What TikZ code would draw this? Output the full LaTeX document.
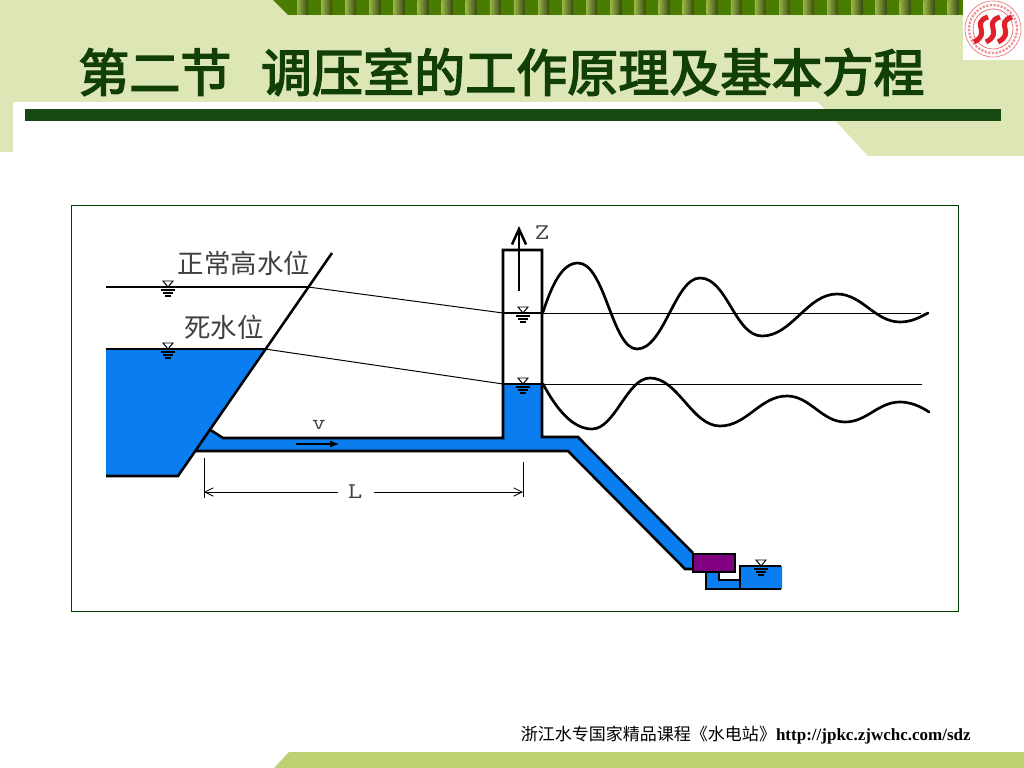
\documentclass[tikz,border=0pt]{standalone}
\usepackage{fontspec}
\setmainfont{Liberation Serif}
\newfontfamily\cjk{Noto Sans CJK SC}
\newfontfamily\cjkhead[FakeBold=3]{Noto Sans CJK SC}
\usetikzlibrary{arrows.meta}

\definecolor{headgreen}{HTML}{DDE6B5}
\definecolor{footgreen}{HTML}{BFD273}
\definecolor{bargreen}{HTML}{174A12}
\definecolor{titlegreen}{HTML}{123F05}
\definecolor{bandgreen}{HTML}{4A7C00}
\definecolor{bandlight}{HTML}{98B548}
\definecolor{banddark}{HTML}{3A4A10}
\definecolor{waterblue}{HTML}{0A7DF0}
\definecolor{turbine}{HTML}{800080}
\definecolor{labelgray}{HTML}{404040}
\definecolor{logored}{HTML}{E0202A}

\tikzset{
  wall/.style={black,line width=1.8pt,line join=miter},
  level/.style={black,line width=0.7pt},
  wave/.style={black,line width=1.9pt,line cap=round},
  dim/.style={black,line width=0.6pt},
  label/.style={text=labelgray,inner sep=0pt,font=\cjk\fontsize{18.8}{20}\selectfont},
  letter/.style={text=labelgray,inner sep=0pt,xscale=1.25,font=\ttfamily\fontsize{16}{17}\selectfont}
}

% inverted triangle and three dashes of a water level
\newcommand{\wmark}[2]{
  \draw[black,line width=0.7pt] (#1-5,#2-6) -- (#1+5,#2-6) -- (#1,#2) -- cycle;
  \draw[black,line width=0.8pt] (#1-7,#2+3) -- (#1+7,#2+3);
  \draw[black,line width=0.8pt] (#1-5,#2+6) -- (#1+5,#2+6);
  \draw[black,line width=0.8pt] (#1-3,#2+9) -- (#1+3,#2+9);
}

\begin{document}
\begin{tikzpicture}[x=0.025cm,y=-0.025cm]
\useasboundingbox (0,0) rectangle (1024,768);
\fill[white] (0,0) rectangle (1024,768);

% slide header
\fill[headgreen] (0,0) -- (1024,0) -- (1024,156) -- (868,156) -- (818,102) -- (13,102) -- (13,152) -- (0,152) -- cycle;
\fill[bandgreen] (273,0) -- (963,0) -- (963,15) -- (288,15) -- cycle;
\foreach \i in {0,...,27}
  \shade[left color=bandlight,middle color=bandlight,right color=banddark]
    ({297+24.1*\i},0) rectangle ({308+24.1*\i},15);
\fill[bargreen] (25,109) rectangle (1001,121);
\node[text=titlegreen,inner sep=0pt,anchor=west] (title) at (78,72)
  {\cjkhead\fontsize{36.3}{40}\selectfont 第二节\hspace{0.58em}调压室的工作原理及基本方程};

% logo
\fill[white] (963,0) rectangle (1024,60);
\draw[logored!60!white,line width=0.5pt] (993,29) circle (28);
\draw[logored!50!white,line width=1.6pt,densely dotted] (993,29) circle (24);
\draw[logored!70!white,line width=0.5pt] (993,29) circle (20);
\foreach \dx in {-12,0,12}
  \draw[logored,line width=3.6pt] (993+\dx+7,17) .. controls (993+\dx-11,23) and (993+\dx+11,33) .. (993+\dx-7,42);

% frame
\draw[green!25!black,line width=0.6pt] (71,205) rectangle (958,611);

% water
\fill[waterblue] (106,349) -- (265,349) -- (178,476) -- (106,476) -- cycle;
\fill[waterblue] (209,429) -- (223,438) -- (503,438) -- (503,384) -- (542,384) -- (542,437) -- (578,437)
  -- (693,553) -- (693,569) -- (685,569) -- (568,451) -- (195,451) -- cycle;
\fill[waterblue] (706,572) -- (719,572) -- (719,580) -- (740,580) -- (740,566) -- (782,566) -- (782,589) -- (706,589) -- cycle;

% reservoir
\draw[wall] (106,287) -- (308,287);
\draw[wall] (106,349) -- (265,349);
\draw[wall] (106,476) -- (178,476) -- (332,253);
\draw[level] (308,287) -- (503,313);
\draw[level] (265,349) -- (503,384);
\wmark{168}{287}
\wmark{168}{349}
\node[label] (normal) at (244,263) {正常高水位};
\node[label] (dead) at (224,327) {死水位};

% tunnel, surge tank and penstock
\draw[wall] (209,429) -- (223,438) -- (503,438) -- (503,250) -- (542,250) -- (542,437) -- (578,437) -- (693,553);
\draw[wall] (195,451) -- (568,451) -- (685,569) -- (693,569);
\draw[wall] (503,313) -- (542,313);
\draw[wall] (503,384) -- (542,384);
\wmark{523}{313}
\wmark{523}{384}

% levels and oscillations
\draw[level] (542,313) -- (921,313);
\draw[level] (542,384) -- (922,384);
\draw[wave] (543,312) .. controls (552,285) and (562,263) .. (578,263)
  .. controls (605,263) and (612,349) .. (637,349)
  .. controls (664,349) and (675,278) .. (700,278)
  .. controls (727,278) and (735,336) .. (762,336)
  .. controls (792,336) and (807,294) .. (837,294)
  .. controls (862,294) and (875,322) .. (900,322)
  .. controls (912,322) and (920,317) .. (928,313);
\draw[wave] (543,384) .. controls (556,408) and (572,429) .. (592,429)
  .. controls (615,429) and (627,378) .. (650,378)
  .. controls (678,378) and (692,426) .. (720,426)
  .. controls (747,426) and (760,396) .. (787,396)
  .. controls (810,396) and (822,422) .. (845,422)
  .. controls (867,422) and (878,402) .. (900,402)
  .. controls (910,402) and (920,406) .. (929,412);

% turbine and tailwater
\draw[wall] (706,572) -- (706,589) -- (781,589);
\draw[wall] (719,572) -- (719,580) -- (740,580);
\draw[wall] (740,589) -- (740,566) -- (781,566);
\draw[wall,fill=turbine] (693,554) rectangle (735,572);
\wmark{761}{566}

% Z axis, velocity, length
\draw[wall,-{Straight Barb[length=11pt,width=10pt]}] (519,291) -- (519,226);
\node[letter] (zlab) at (542,233) {Z};
\node[letter,font=\ttfamily\fontsize{15}{16}\selectfont] (vlab) at (319,425) {v};
\draw[black,line width=1.5pt,-{Latex[length=7pt,width=5pt]}] (296,444) -- (340,444);
\node[letter] (llab) at (355,492) {L};
\coordinate (lleft) at (204,492);
\coordinate (lright) at (523,492);
\draw[dim] (204,458) -- (204,498);
\draw[dim] (523,462) -- (523,497);
\draw[dim,-{Straight Barb[length=6pt,width=6pt]}] (338,492) -- (lleft);
\draw[dim,-{Straight Barb[length=6pt,width=6pt]}] (374,492) -- (lright);

% footer
\fill[footgreen] (289,752) -- (1024,752) -- (1024,768) -- (274,768) -- cycle;
\node[inner sep=0pt,anchor=east] (source) at (971,735)
  {{\cjk\fontsize{12.1}{13}\selectfont 浙江水专国家精品课程《水电站》}{\bfseries\fontsize{12.1}{13}\selectfont http://jpkc.zjwchc.com/sdz}};
\end{tikzpicture}
\end{document}
